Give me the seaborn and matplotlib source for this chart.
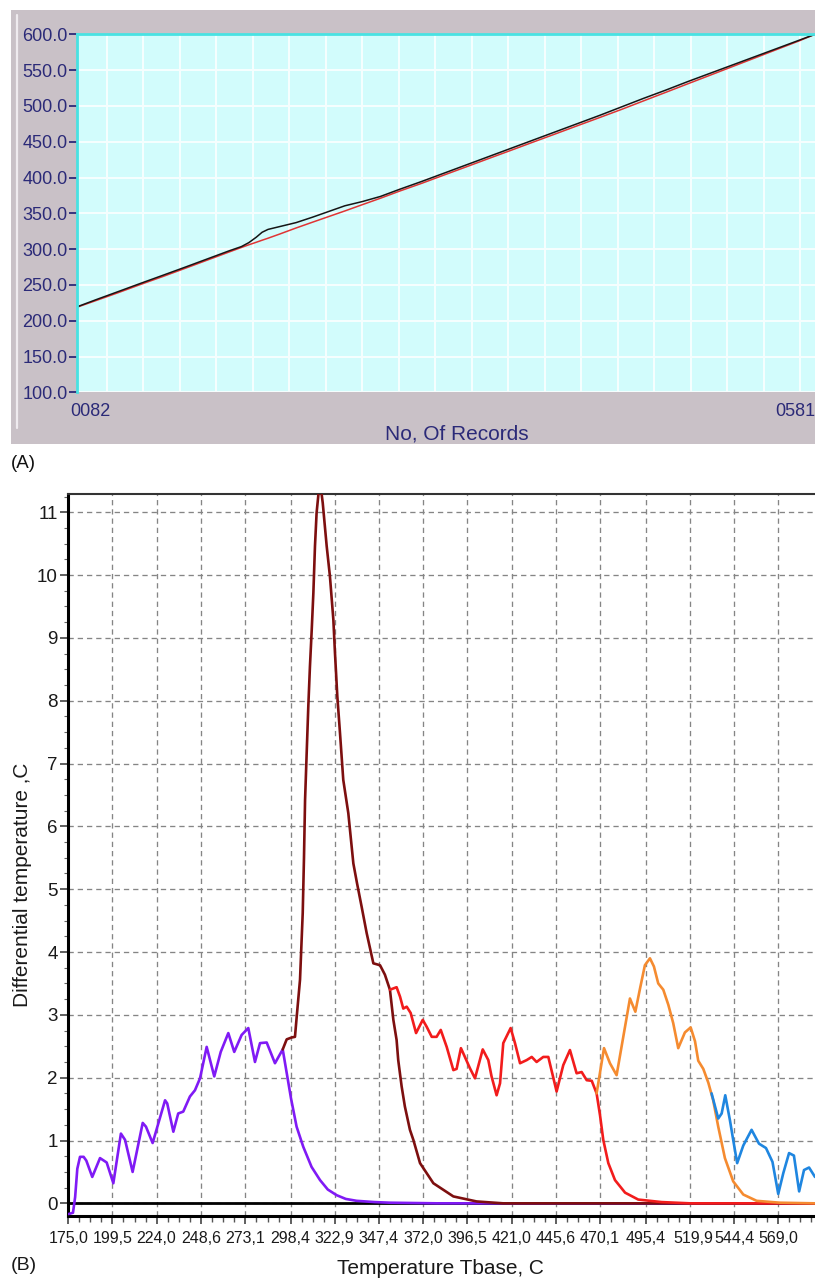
import matplotlib
matplotlib.use("Agg")
import matplotlib.pyplot as plt
import matplotlib.transforms as mtransforms
from matplotlib.patches import Rectangle
from matplotlib.lines import Line2D
import numpy as np
import pandas as pd
import seaborn as sns

# ---------------- Panel A: temperature log vs record number ----------------
records = [82, 95, 110, 125, 140, 155, 170, 185, 193, 198, 203, 207, 211, 219, 230,
           241, 252, 263, 275, 287, 300, 315, 330, 345, 360, 375, 390, 405, 420, 435,
           450, 465, 480, 495, 510, 525, 540, 555, 570, 581]
temp_setpoint = [219.0, 228.4, 239.4, 250.8, 261.8, 273.2, 284.7, 296.2, 302.3, 306.0,
                 309.5, 312.4, 315.2, 321.1, 329.5, 337.5, 345.4, 353.3, 362.2, 371.0,
                 381.0, 391.9, 403.4, 414.8, 426.3, 437.7, 449.2, 460.6, 472.1, 483.5,
                 495.0, 507.0, 518.9, 530.9, 542.8, 554.8, 566.7, 578.7, 590.6, 600.0]
temp_sample = [219.5, 229.6, 240.9, 252.3, 263.5, 274.8, 286.3, 297.8, 303.5, 309.0,
               316.5, 323.5, 327.5, 331.5, 337.0, 344.5, 352.5, 360.5, 366.5, 373.5,
               383.5, 394.5, 406.0, 417.5, 429.0, 440.5, 452.0, 463.5, 475.0, 486.5,
               498.5, 510.5, 522.0, 534.0, 545.5, 557.0, 568.5, 580.0, 591.5, 600.0]
a_yticks = [100, 150, 200, 250, 300, 350, 400, 450, 500, 550, 600]
a_xticks = [82, 581]
a_xticklabels = ["0082", "0581"]

# ---------------- Panel B: differential temperature vs Tbase ----------------
violet_t = [175.2, 177.6, 178.8, 180.0, 181.5, 183.5, 185.0, 188.3, 192.6, 196.3, 200.0,
            204.2, 206.5, 210.7, 216.3, 218.1, 221.8, 228.7, 229.9, 233.3, 236.0, 238.8,
            242.5, 245.3, 248.1, 251.8, 256.0, 259.6, 263.8, 267.1, 271.2, 274.9, 278.6,
            281.4, 285.1, 289.7, 294.0, 298.6, 301.7, 305.4, 310.0, 314.7, 319.0, 323.9,
            329.0, 335.0, 345.0, 353.5, 380.0, 589.4]
violet_dt = [-0.17, -0.15, 0.10, 0.55, 0.74, 0.74, 0.68, 0.42, 0.72, 0.65, 0.32,
             1.11, 1.01, 0.50, 1.28, 1.22, 0.96, 1.64, 1.59, 1.14, 1.43, 1.46,
             1.70, 1.80, 1.99, 2.49, 2.02, 2.41, 2.71, 2.41, 2.68, 2.79, 2.25,
             2.55, 2.56, 2.23, 2.45, 1.67, 1.22, 0.90, 0.58, 0.37, 0.22, 0.13,
             0.07, 0.04, 0.02, 0.01, 0.0, 0.0]

maroon_t = [294.0, 296.2, 299.0, 300.8, 301.7, 303.6, 305.1, 305.8, 306.4, 307.3, 308.2,
            309.1, 310.1, 311.0, 311.9, 312.8, 313.8, 315.1, 316.2, 318.4, 320.2, 322.1,
            323.0, 324.3, 325.8, 327.6, 330.4, 333.2, 335.2, 337.8, 340.6, 344.3, 348.0,
            350.7, 353.5, 355.4, 357.2, 358.1, 360.0, 361.8, 364.6, 366.5, 370.2, 377.6,
            388.7, 401.6, 416.4, 589.4]
maroon_dt = [2.45, 2.61, 2.64, 2.65, 2.95, 3.56, 4.62, 5.50, 6.42, 7.17, 7.91,
             8.54, 9.13, 9.71, 10.46, 10.99, 11.28, 11.40, 11.15, 10.46, 9.98, 9.29,
             8.76, 8.07, 7.48, 6.74, 6.21, 5.41, 5.10, 4.72, 4.30, 3.82, 3.79,
             3.64, 3.40, 2.92, 2.60, 2.28, 1.86, 1.54, 1.17, 1.01, 0.64, 0.32,
             0.11, 0.03, 0.0, 0.0]

red_t = [353.5, 357.2, 359.1, 360.9, 362.8, 365.0, 368.0, 371.7, 373.9, 376.7, 379.4,
         381.7, 385.0, 388.7, 390.5, 392.9, 395.1, 397.9, 400.7, 405.0, 408.1, 409.9,
         412.7, 414.6, 416.4, 420.5, 422.9, 425.7, 429.4, 432.2, 434.9, 438.6, 441.4,
         446.0, 449.7, 453.4, 457.1, 459.9, 462.7, 465.5, 468.2, 470.1, 471.9, 474.7,
         478.4, 484.0, 491.3, 504.3, 520.0, 589.4]
red_dt = [3.40, 3.44, 3.29, 3.10, 3.13, 3.03, 2.71, 2.92, 2.81, 2.65, 2.65,
          2.76, 2.49, 2.12, 2.14, 2.47, 2.33, 2.15, 1.99, 2.45, 2.28, 2.02,
          1.72, 1.91, 2.55, 2.79, 2.55, 2.23, 2.28, 2.33, 2.25, 2.33, 2.33,
          1.78, 2.20, 2.44, 2.07, 2.09, 1.96, 1.95, 1.75, 1.40, 1.01, 0.64,
          0.37, 0.17, 0.06, 0.02, 0.0, 0.0]

orange_t = [468.2, 472.3, 475.6, 479.3, 483.0, 486.7, 489.7, 492.3, 495.0, 497.8,
            500.0, 502.4, 505.2, 508.0, 510.7, 513.5, 517.2, 520.4, 522.8, 524.6,
            527.4, 530.2, 532.9, 535.7, 539.4, 544.0, 549.6, 557.0, 569.9, 589.4]
orange_dt = [1.75, 2.47, 2.23, 2.04, 2.65, 3.26, 3.05, 3.42, 3.79, 3.90,
             3.77, 3.50, 3.40, 3.16, 2.87, 2.47, 2.72, 2.80, 2.58, 2.27,
             2.14, 1.92, 1.64, 1.22, 0.72, 0.35, 0.14, 0.04, 0.01, 0.0]

blue_t = [532.0, 535.7, 537.6, 539.6, 542.2, 544.0, 546.2, 549.6, 554.2, 558.3,
          562.2, 565.8, 569.0, 571.8, 575.0, 577.7, 580.6, 583.3, 586.1, 589.4]
blue_dt = [1.75, 1.35, 1.43, 1.72, 1.32, 1.01, 0.64, 0.92, 1.17, 0.95,
           0.88, 0.66, 0.15, 0.48, 0.80, 0.76, 0.19, 0.53, 0.57, 0.42]

b_xticks = [175.0, 199.5, 224.0, 248.6, 273.1, 298.4, 322.9, 347.4, 372.0,
            396.5, 421.0, 445.6, 470.1, 495.4, 519.95, 544.4, 569.0]
b_xticklabels = ["175,0", "199,5", "224,0", "248,6", "273,1", "298,4", "322,9",
                 "347,4", "372,0", "396,5", "421,0", "445,6", "470,1", "495,4",
                 "519,9", "544,4", "569,0"]
b_yticks = list(range(0, 12))

# ---------------- style ----------------
sns.set_theme(style="ticks")
plt.rcParams["font.family"] = ["Liberation Sans", "DejaVu Sans"]

W, H = 815, 1280
fig = plt.figure(figsize=(W / 100, H / 100), dpi=100)
fig.patch.set_facecolor("white")


def fx(px):
    return px / W


def fy(py):
    return 1 - py / H


NAVY = "#2b2a78"

# grey window frame behind panel A
fig.add_artist(Rectangle((fx(11), fy(444)), fx(815) - fx(11), fy(10) - fy(444),
                         transform=fig.transFigure, facecolor="#c9c1c7",
                         edgecolor="none", zorder=-1))
fig.add_artist(Line2D([fx(17), fx(17)], [fy(15), fy(428)], transform=fig.transFigure,
                      color="#efebef", lw=1.6, zorder=1))

# ---------------- Panel A ----------------
axA = fig.add_axes([fx(77.3), fy(392.3), 1 - fx(77.3), fy(34.3) - fy(392.3)])
axA.set_facecolor("#d2fcfc")
axA.set_xlim(82, 581)
axA.set_ylim(100, 600)

for gx in np.linspace(102, 571, 20):
    axA.axvline(gx, color="#f6ffff", lw=1.4, zorder=0.5)
for gy in a_yticks:
    axA.axhline(gy, color="#f6ffff", lw=1.4, zorder=0.5)

dfA = pd.DataFrame({"record": records, "setpoint": temp_setpoint, "sample": temp_sample})
sns.lineplot(data=dfA, x="record", y="setpoint", ax=axA, color="#e03434",
             linewidth=1.1, estimator=None)
sns.lineplot(data=dfA, x="record", y="sample", ax=axA, color="#151515",
             linewidth=1.1, estimator=None)

axA.set_xlabel("")
axA.set_ylabel("")
axA.set_yticks(a_yticks)
axA.set_yticklabels([f"{v:.1f}" for v in a_yticks])
axA.set_xticks(a_xticks)
axA.set_xticklabels(a_xticklabels)
axA.tick_params(axis="y", colors=NAVY, length=6, width=1.3, pad=1, labelsize=13)
axA.tick_params(axis="x", length=0, labelcolor=NAVY, labelsize=13, pad=8)
xl = axA.get_xticklabels()
xl[0].set_horizontalalignment("left")
xl[0].set_transform(xl[0].get_transform() +
                    mtransforms.ScaledTranslation(-7 / 100, 0, fig.dpi_scale_trans))
xl[1].set_horizontalalignment("right")
for side in ("right", "bottom"):
    axA.spines[side].set_visible(False)
for side in ("top", "left"):
    axA.spines[side].set_color("#48e2e2")
    axA.spines[side].set_linewidth(2.0)

fig.text(fx(457), fy(434), "No, Of Records", ha="center", va="center",
         fontsize=15, color=NAVY)
fig.text(fx(11), fy(463), "(A)", ha="left", va="center", fontsize=13.5, color="#111111")

# ---------------- Panel B ----------------
axB = fig.add_axes([fx(67.7), fy(1215.9), 1 - fx(67.7), fy(494) - fy(1215.9)])
axB.set_facecolor("white")
axB.set_xlim(174.67, 589.4)
axB.set_ylim(-0.2, 11.29)

axB.axhline(0, color="black", lw=2.0, zorder=1.5)

curves = [
    (violet_t, violet_dt, "#801af5"),
    (maroon_t, maroon_dt, "#7d0f0f"),
    (red_t, red_dt, "#f21c1c"),
    (orange_t, orange_dt, "#f58b30"),
    (blue_t, blue_dt, "#1f86e0"),
]
for k, (xs, ys, col) in enumerate(curves):
    sns.lineplot(x=xs, y=ys, ax=axB, color=col, linewidth=1.9, estimator=None,
                 zorder=3 + k)

axB.set_xlabel("")
axB.set_ylabel("")
axB.set_xticks(b_xticks)
axB.set_xticklabels(b_xticklabels)
minor_x = []
for a, b in zip(b_xticks[:-1], b_xticks[1:]):
    minor_x += [a + (b - a) * q / 4 for q in (1, 2, 3)]
step = (b_xticks[-1] - b_xticks[-2]) / 4
minor_x += [b_xticks[-1] + step * q for q in (1, 2, 3)]
axB.set_xticks(minor_x, minor=True)
axB.set_yticks(b_yticks)
axB.set_yticklabels([str(v) for v in b_yticks])
axB.set_yticks(np.arange(-0.0, 11.3, 0.25), minor=True)

axB.tick_params(axis="x", which="major", length=6, width=1.2, color="#444444",
                labelsize=11.5, pad=5, labelcolor="#1a1a1a")
axB.tick_params(axis="x", which="minor", length=4, width=1.0, color="#555555")
axB.tick_params(axis="y", which="major", length=6, width=1.2, color="#444444",
                labelsize=13.5, pad=1, labelcolor="#1a1a1a")
axB.tick_params(axis="y", which="minor", length=3, width=0.8, color="#666666")

# tick labels are anchored at their left edge, 20 px left of the tick;
# the 519,9 label sits flush against its neighbour
for lab in axB.get_xticklabels():
    dx = -16.5 if lab.get_text() == "519,9" else -20
    lab.set_horizontalalignment("left")
    lab.set_transform(lab.get_transform() +
                      mtransforms.ScaledTranslation(dx / 100, 0, fig.dpi_scale_trans))

axB.set_axisbelow(True)
axB.grid(True, which="major", color="#858585", linestyle=(0, (4, 3)), linewidth=0.95)

axB.spines["right"].set_visible(False)
for side in ("left", "bottom"):
    axB.spines[side].set_color("black")
    axB.spines[side].set_linewidth(2.2)
axB.spines["top"].set_color("#333333")
axB.spines["top"].set_linewidth(1.5)

fig.text(fx(23), fy(885), "Differential temperature ,C", rotation=90,
         ha="center", va="center", fontsize=15, color="#1a1a1a")
fig.text(fx(440), fy(1268), "Temperature Tbase, C", ha="center", va="center",
         fontsize=15, color="#1a1a1a")
fig.text(fx(11), fy(1265), "(B)", ha="left", va="center", fontsize=14, color="#1a1a1a")

fig.savefig("out.png", dpi=100, facecolor="white")
